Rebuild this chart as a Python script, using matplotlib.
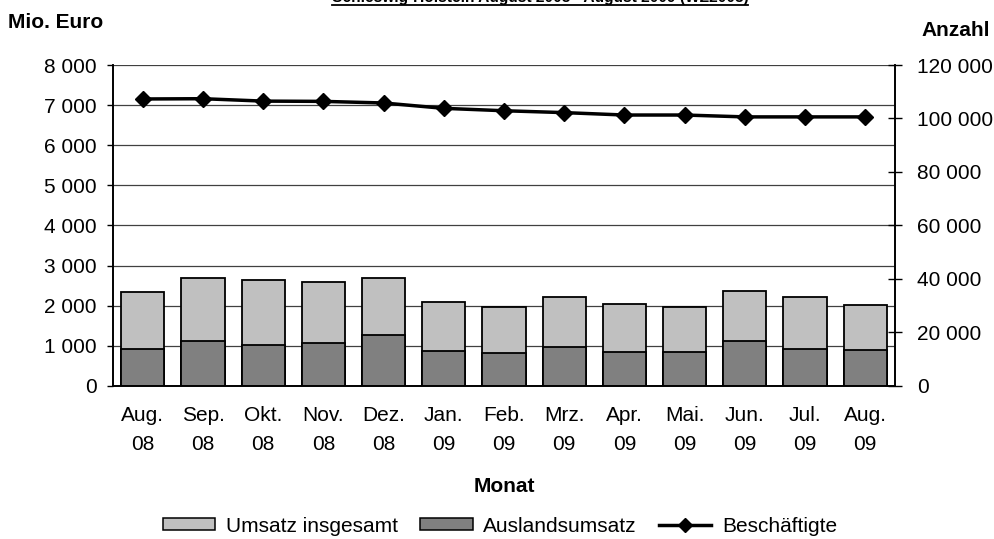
import matplotlib
matplotlib.use('Agg')
import matplotlib.pyplot as plt
import numpy as np
from matplotlib.patches import Patch
from matplotlib.lines import Line2D

plt.rcParams['font.family'] = ['Liberation Sans', 'DejaVu Sans']

# data
monate = ['Aug.\n08', 'Sep.\n08', 'Okt.\n08', 'Nov.\n08', 'Dez.\n08', 'Jan.\n09', 'Feb.\n09',
          'Mrz.\n09', 'Apr.\n09', 'Mai.\n09', 'Jun.\n09', 'Jul.\n09', 'Aug.\n09']
umsatz = [2350, 2690, 2650, 2600, 2690, 2100, 1970, 2210, 2050, 1960, 2360, 2210, 2010]
ausland = [930, 1120, 1020, 1070, 1270, 880, 830, 980, 840, 840, 1120, 930, 890]
beschaeftigte = [107300, 107400, 106500, 106400, 105800, 103800, 102900,
                 102200, 101300, 101300, 100600, 100600, 100600]

fs = 15

fig = plt.figure(figsize=(9.94, 5.39), dpi=100)
ax = fig.add_axes([0.1134, 0.2839, 0.7873, 0.5955])
ax2 = ax.twinx()

x = np.arange(len(monate))
w = 0.715
ax.bar(x, umsatz, w, color='#c0c0c0', edgecolor='black', linewidth=1.3, zorder=3)
ax.bar(x, ausland, w, color='#808080', edgecolor='black', linewidth=1.3, zorder=3)

ax.set_xlim(-0.5, len(monate) - 0.5)
ax.set_ylim(0, 8000)
ax.set_yticks(range(0, 8001, 1000))
ax.set_yticklabels([f'{v:,}'.replace(',', ' ') for v in range(0, 8001, 1000)])
ax.yaxis.grid(True, color='#404040', linewidth=0.9, zorder=0)
ax.set_axisbelow(True)
ax.set_xticks(x)
ax.set_xticklabels(monate, linespacing=1.7)
ax.tick_params(axis='x', length=0, pad=14.4, labelsize=fs)
ax.tick_params(axis='y', length=4.3, width=1, pad=7.2, labelsize=fs)
ax.set_xlabel('Monat', fontsize=fs, fontweight='bold', va='center')
ax.xaxis.set_label_coords(0.501, -0.3146)

ax2.plot(x, beschaeftigte, color='black', linewidth=2.5, marker='D', markersize=8, zorder=5)
ax2.set_ylim(0, 120000)
ax2.set_yticks(range(0, 120001, 20000))
ax2.set_yticklabels([f'{v:,}'.replace(',', ' ') for v in range(0, 120001, 20000)])
ax2.tick_params(axis='y', direction='inout', length=10, width=1, pad=10.5, labelsize=fs)

for a in (ax, ax2):
    a.spines['top'].set_visible(False)
    for s in ('left', 'right', 'bottom'):
        a.spines[s].set_linewidth(1.2)
        a.spines[s].set_color('black')

fig.text(8 / 994, 1 - 22.5 / 539, 'Mio. Euro', fontsize=fs, fontweight='bold', va='center', ha='left')
fig.text(990 / 994, 1 - 30 / 539, 'Anzahl', fontsize=fs, fontweight='bold', va='center', ha='right')

# title, mostly cut off at the top edge as in the reference
t = fig.text(540 / 994, 1 - 2 / 539, 'Schleswig-Holstein August 2008 - August 2009 (WZ2008)',
             fontsize=11.2, fontweight='bold', ha='center', va='baseline')
fig.canvas.draw()
bb = t.get_window_extent(fig.canvas.get_renderer())
fig.add_artist(Line2D([bb.x0 / 994, bb.x1 / 994], [1 - 5 / 539, 1 - 5 / 539],
                      color='black', linewidth=1.3, transform=fig.transFigure))

handles = [Patch(facecolor='#c0c0c0', edgecolor='black', linewidth=1.1),
           Patch(facecolor='#808080', edgecolor='black', linewidth=1.1),
           Line2D([], [], color='black', linewidth=2.5, marker='D', markersize=7)]
fig.legend(handles, ['Umsatz insgesamt', 'Auslandsumsatz', 'Beschäftigte'],
           loc='center', bbox_to_anchor=(500 / 994, 1 - 526 / 539), ncol=3, frameon=False,
           fontsize=fs, handlelength=2.5, handleheight=0.5, handletextpad=0.5,
           columnspacing=1.1, borderpad=0.1)

fig.savefig('out.png', dpi=100)
